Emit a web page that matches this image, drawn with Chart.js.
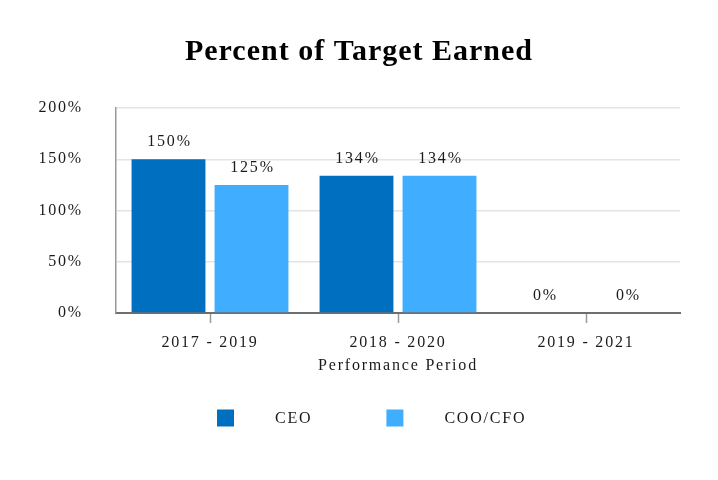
<!DOCTYPE html>
<html>
<head>
<meta charset="utf-8">
<script src="https://cdn.jsdelivr.net/npm/chart.js@4/dist/chart.umd.min.js"></script>
<style>
  html, body { margin: 0; padding: 0; background: #fff; }
  #wrap { width: 718px; height: 480px; position: relative; }
</style>
</head>
<body>
<div id="wrap"><canvas id="c"></canvas></div>
<script>
const categories = ['2017 - 2019', '2018 - 2020', '2019 - 2021'];
const seriesNames = ['CEO', 'COO/CFO'];
const ceoValues = [150, 134, 0];
const cooValues = [125, 134, 0];
const yTicks = [0, 50, 100, 150, 200];
const chartTitle = 'Percent of Target Earned';

const colors = ['#006FBF', '#41ADFF'];
const serif = '"Liberation Serif", "Times New Roman", serif';
const textColor = '#1a1a1a';

const spacingPlugin = {
  id: 'spacing',
  beforeLayout(chart) { chart.ctx.letterSpacing = '1.8px'; },
  beforeDraw(chart) { chart.ctx.letterSpacing = '1.8px'; }
};

const titlePlugin = {
  id: 'customTitle',
  afterDraw(chart) {
    const ctx = chart.ctx;
    ctx.save();
    ctx.letterSpacing = '1px';
    ctx.font = 'bold 30px ' + serif;
    ctx.fillStyle = '#000';
    ctx.textAlign = 'center';
    ctx.textBaseline = 'middle';
    ctx.fillText(chartTitle, chart.width / 2, 52);
    ctx.restore();
  }
};

const valueLabels = {
  id: 'valueLabels',
  afterDatasetsDraw(chart) {
    const ctx = chart.ctx;
    ctx.save();
    ctx.letterSpacing = '1.8px';
    ctx.font = '16px ' + serif;
    ctx.fillStyle = textColor;
    ctx.textAlign = 'center';
    ctx.textBaseline = 'middle';
    chart.data.datasets.forEach((ds, i) => {
      const meta = chart.getDatasetMeta(i);
      meta.data.forEach((bar, j) => {
        ctx.fillText(ds.data[j] + '%', bar.x + 1, bar.y - 17);
      });
    });
    ctx.restore();
  }
};

const customLegend = {
  id: 'customLegend',
  afterDraw(chart) {
    const ctx = chart.ctx;
    ctx.save();
    ctx.letterSpacing = '1.8px';
    ctx.font = '16px ' + serif;
    ctx.textBaseline = 'middle';
    ctx.textAlign = 'left';
    const boxSize = 17;
    const textOffset = 58;
    const itemGap = 74;
    const y = chart.chartArea.bottom + 105;
    let x = chart.chartArea.left + 101;
    chart.data.datasets.forEach((ds) => {
      ctx.fillStyle = ds.backgroundColor;
      ctx.fillRect(x, y - boxSize / 2, boxSize, boxSize);
      ctx.fillStyle = textColor;
      ctx.fillText(ds.label, x + textOffset, y + 1);
      x += textOffset + ctx.measureText(ds.label).width + itemGap;
    });
    ctx.restore();
  }
};

new Chart(document.getElementById('c'), {
  type: 'bar',
  data: {
    labels: categories,
    datasets: [
      { label: seriesNames[0], data: ceoValues, backgroundColor: colors[0] },
      { label: seriesNames[1], data: cooValues, backgroundColor: colors[1] }
    ]
  },
  options: {
    responsive: true,
    maintainAspectRatio: false,
    animation: false,
    layout: { padding: { left: 0, right: 38, top: 108, bottom: 105 } },
    categoryPercentage: 0.883,
    barPercentage: 0.89,
    plugins: {
      legend: { display: false },
      tooltip: { enabled: false },
      title: { display: false }
    },
    scales: {
      x: {
        offset: true,
        grid: {
          display: true,
          drawOnChartArea: false,
          offset: false,
          drawTicks: true,
          tickLength: 10,
          tickColor: '#9a9a9a',
          tickWidth: 1.5
        },
        border: { display: true, color: '#6e6e6e', width: 2 },
        ticks: {
          color: textColor,
          font: { family: serif, size: 16 },
          padding: 10,
          maxRotation: 0
        },
        title: {
          display: true,
          text: 'Performance Period',
          color: textColor,
          font: { family: serif, size: 16 },
          padding: { top: 2, bottom: 0 }
        },
        afterFit(scale) { scale.height = 62; }
      },
      y: {
        min: 0,
        max: 200,
        afterBuildTicks(scale) { scale.ticks = yTicks.map(v => ({ value: v })); },
        grid: {
          color: '#e4e4e4',
          lineWidth: 1.5,
          drawTicks: false
        },
        border: { display: true, color: '#9a9a9a', width: 1.5 },
        ticks: {
          color: textColor,
          font: { family: serif, size: 16 },
          padding: 33,
          callback: v => v + '%'
        },
        afterFit(scale) { scale.width = 116; }
      }
    }
  },
  plugins: [spacingPlugin, titlePlugin, valueLabels, customLegend]
});
</script>
</body>
</html>
